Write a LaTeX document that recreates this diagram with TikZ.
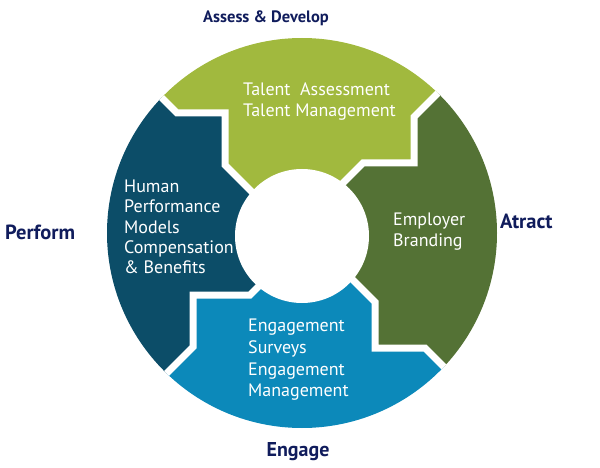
\documentclass[tikz,border=0pt]{standalone}
\usepackage{fontspec}
\setmainfont{PT Sans}
\usepackage{xcolor}
\definecolor{assessgreen}{RGB}{161,185,62}
\definecolor{attractgreen}{RGB}{84,114,53}
\definecolor{engageblue}{RGB}{12,137,186}
\definecolor{performblue}{RGB}{12,77,104}
\definecolor{phasenavy}{RGB}{16,28,92}

\begin{document}
\begin{tikzpicture}[
  x=1pt, y=-1pt,
  segtext/.style={
    text=white,
    align=left,
    anchor=west,
    inner sep=0pt,
    font=\fontsize{18}{21}\selectfont
  },
  phase/.style={
    text=phasenavy,
    inner sep=0pt,
    font=\bfseries\fontsize{16.5}{20}\selectfont
  },
  gap/.style={
    draw=white,
    line width=7pt,
    line join=miter
  }
]
\useasboundingbox (0,0) rectangle (600,468);

% Stepped gaps between the four quarters
\coordinate (tr0) at (303,223); \coordinate (tr1) at (363,163);
\coordinate (tr2) at (414,163); \coordinate (tr3) at (414,117);
\coordinate (tr4) at (474,57);
\coordinate (tl0) at (285,225); \coordinate (tl1) at (225,165);
\coordinate (tl2) at (225,113); \coordinate (tl3) at (177,113);
\coordinate (tl4) at (117,53);
\coordinate (bl0) at (300,245); \coordinate (bl1) at (250,295);
\coordinate (bl2) at (193,295); \coordinate (bl3) at (193,347);
\coordinate (bl4) at (133,407);
\coordinate (br0) at (315,242); \coordinate (br1) at (375,302);
\coordinate (br2) at (375,348); \coordinate (br3) at (425,348);
\coordinate (br4) at (485,408);

% Ring quarters
\begin{scope}
  \clip (302,233) circle[radius=195pt];
  \fill[assessgreen] (tr0) -- (tr1) -- (tr2) -- (tr3) -- (tr4) -- (302,-80)
    -- (tl4) -- (tl3) -- (tl2) -- (tl1) -- (tl0) -- cycle;
  \fill[performblue] (tl0) -- (tl1) -- (tl2) -- (tl3) -- (tl4) -- (-80,234)
    -- (bl4) -- (bl3) -- (bl2) -- (bl1) -- (bl0) -- cycle;
  \fill[engageblue] (bl0) -- (bl1) -- (bl2) -- (bl3) -- (bl4) -- (302,550)
    -- (br4) -- (br3) -- (br2) -- (br1) -- (br0) -- cycle;
  \fill[attractgreen] (br0) -- (br1) -- (br2) -- (br3) -- (br4) -- (680,234)
    -- (tr4) -- (tr3) -- (tr2) -- (tr1) -- (tr0) -- cycle;
  \foreach \g in {tr,tl,bl,br}
    \draw[gap] (\g0) -- (\g1) -- (\g2) -- (\g3) -- (\g4);
\end{scope}

% Hole in the middle
\fill[white] (302,236) circle[radius=67pt];

% Quarter texts
\node[segtext] (talent) at (243,102) {Talent\ \ Assessment\\Talent Management};
\node[segtext, font=\fontsize{18}{20.3}\selectfont] (human) at (124,227)
  {Human\\Performance\\Models\\Compensation\\\& Benefits};
\node[segtext] (brand) at (393,232) {Employer\\Branding};
\node[segtext, font=\fontsize{18}{21.7}\selectfont] (survey) at (248,360)
  {Engagement\\Surveys\\Engagement\\Management};

% Phase labels
\node[phase] (assess) at (266,18) {Assess \& Develop};
\node[phase, anchor=west, font=\bfseries\fontsize{20.5}{24}\selectfont] (perform) at (5,232) {Perform};
\node[phase, anchor=west, font=\bfseries\fontsize{20.5}{24}\selectfont] (attract) at (500,221) {Atract};
\node[phase, font=\bfseries\fontsize{20}{24}\selectfont] (engage) at (298,452) {Engage};

\end{tikzpicture}
\end{document}
